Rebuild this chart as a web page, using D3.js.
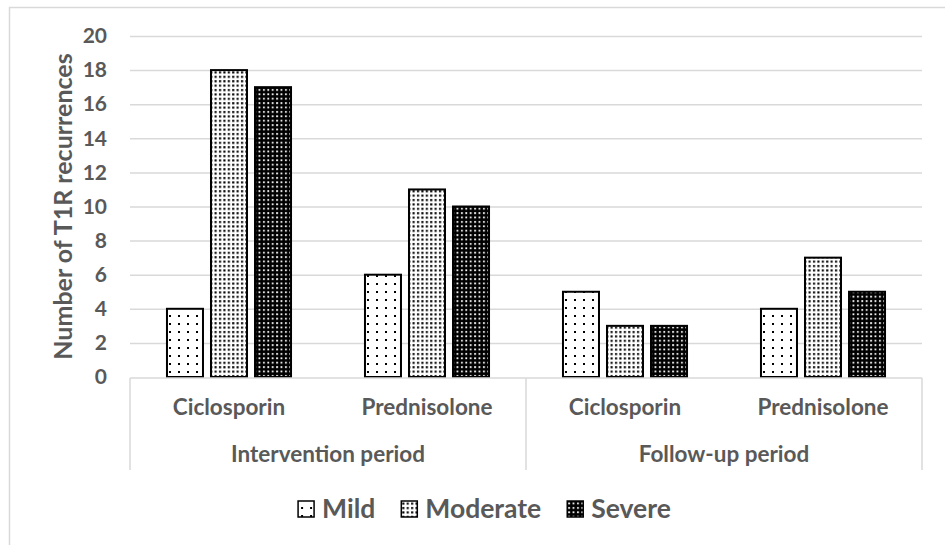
<!DOCTYPE html>
<html>
<head>
<meta charset="utf-8">
<script src="https://cdn.jsdelivr.net/npm/d3@7"></script>
<style>
  html, body { margin: 0; padding: 0; background: #fff; }
  svg { display: block; }
  text { font-family: Lato, "Open Sans", sans-serif; font-weight: 700; fill: #595959; }
</style>
</head>
<body>
<svg id="chart" width="945" height="545"></svg>
<script>
// Recurrences of type 1 reactions, by severity, treatment and study period
const periods = ["Intervention period", "Follow-up period"];
const drugs = ["Ciclosporin", "Prednisolone"];
const severities = ["Mild", "Moderate", "Severe"];
const mildValues = [4, 6, 5, 4];
const moderateValues = [18, 11, 3, 7];
const severeValues = [17, 10, 3, 5];
const yTicks = [0, 2, 4, 6, 8, 10, 12, 14, 16, 18, 20];
const yTitle = "Number of T1R recurrences";

const seriesValues = { Mild: mildValues, Moderate: moderateValues, Severe: severeValues };

// category keys: period x drug
const cats = [];
periods.forEach(p => drugs.forEach(d => cats.push({ period: p, drug: d, key: p + "|" + d })));

const svg = d3.select("#chart");
const plot = { left: 130, right: 922, top: 36, bottom: 377 };

// outer chart frame
svg.append("rect")
  .attr("x", 9.5).attr("y", 7.5).attr("width", 960).attr("height", 560)
  .attr("fill", "none").attr("stroke", "#d9d9d9").attr("stroke-width", 1.5);

// fill patterns
const defs = svg.append("defs");
const pMild = defs.append("pattern").attr("id", "pat-mild")
  .attr("patternUnits", "userSpaceOnUse").attr("width", 9).attr("height", 8);
pMild.append("rect").attr("width", 9).attr("height", 8).attr("fill", "#fff");
pMild.append("rect").attr("x", 3).attr("y", 3).attr("width", 2).attr("height", 2).attr("fill", "#000");

const pMod = defs.append("pattern").attr("id", "pat-moderate")
  .attr("patternUnits", "userSpaceOnUse").attr("width", 4.4).attr("height", 4.4);
pMod.append("rect").attr("width", 4.4).attr("height", 4.4).attr("fill", "#fff");
pMod.append("rect").attr("x", 1).attr("y", 1).attr("width", 2.1).attr("height", 2.1).attr("fill", "#000");

const pSev = defs.append("pattern").attr("id", "pat-severe")
  .attr("patternUnits", "userSpaceOnUse").attr("width", 4.4).attr("height", 4.4);
pSev.append("rect").attr("width", 4.4).attr("height", 4.4).attr("fill", "#000");
pSev.append("rect").attr("x", 1).attr("y", 1).attr("width", 1.8).attr("height", 1.8).attr("fill", "#fff");

const fills = { Mild: "url(#pat-mild)", Moderate: "url(#pat-moderate)", Severe: "url(#pat-severe)" };

// scales
const y = d3.scaleLinear().domain([0, 20]).range([plot.bottom, plot.top]);
const x0 = d3.scaleBand().domain(cats.map(c => c.key)).range([plot.left, plot.right]);
const x1 = d3.scaleBand().domain(severities).range([0, x0.bandwidth()])
  .paddingInner(0.182).paddingOuter(0.84);

// gridlines
svg.append("g")
  .attr("transform", `translate(${plot.left},0)`)
  .call(d3.axisLeft(y).tickValues(yTicks.filter(v => v > 0)).tickSize(-(plot.right - plot.left)).tickFormat(""))
  .call(g => g.select(".domain").remove())
  .call(g => g.selectAll("line").attr("stroke", "#d9d9d9").attr("stroke-width", 1.5));

// y tick labels
svg.append("g")
  .attr("transform", `translate(${plot.left},0)`)
  .call(d3.axisLeft(y).tickValues(yTicks).tickSize(0).tickPadding(23))
  .call(g => g.select(".domain").remove())
  .call(g => g.selectAll("text").attr("font-size", 21).attr("fill", "#595959")
    .style("font-family", "Lato, sans-serif").style("font-weight", 700));

// bars
const groups = svg.append("g").selectAll("g").data(cats).join("g")
  .attr("transform", d => `translate(${x0(d.key)},0)`);
groups.selectAll("rect")
  .data((d, i) => severities.map(s => ({ s, v: seriesValues[s][i] })))
  .join("rect")
  .attr("x", d => x1(d.s))
  .attr("width", x1.bandwidth())
  .attr("y", d => y(d.v))
  .attr("height", d => y(0) - y(d.v))
  .attr("fill", d => fills[d.s])
  .attr("stroke", "#000").attr("stroke-width", 2);

// category axis: baseline and group dividers
const axisColor = "#d9d9d9";
svg.append("line")
  .attr("x1", plot.left).attr("x2", plot.right).attr("y1", plot.bottom + 1).attr("y2", plot.bottom + 1)
  .attr("stroke", axisColor).attr("stroke-width", 1.5);
const dividers = [plot.left, x0(cats[2].key), plot.right];
svg.append("g").selectAll("line").data(dividers).join("line")
  .attr("x1", d => d).attr("x2", d => d)
  .attr("y1", plot.bottom + 1).attr("y2", 470)
  .attr("stroke", axisColor).attr("stroke-width", 1.5);

// drug labels
svg.append("g").selectAll("text").data(cats).join("text")
  .attr("x", d => x0(d.key) + x0.bandwidth() / 2)
  .attr("y", 415)
  .attr("text-anchor", "middle")
  .attr("font-size", 22.5)
  .text(d => d.drug);

// period labels
svg.append("g").selectAll("text").data(periods).join("text")
  .attr("x", p => {
    const keys = cats.filter(c => c.period === p).map(c => c.key);
    return (x0(keys[0]) + x0(keys[keys.length - 1]) + x0.bandwidth()) / 2;
  })
  .attr("y", 462)
  .attr("text-anchor", "middle")
  .attr("font-size", 22.5)
  .text(p => p);

// y-axis title
svg.append("text")
  .attr("transform", `translate(62,${(plot.top + plot.bottom) / 2}) rotate(-90)`)
  .attr("text-anchor", "middle")
  .attr("dominant-baseline", "central")
  .attr("font-size", 25)
  .text(yTitle);

// legend, centred in the chart frame
const legend = svg.append("g");
const markerSize = 16, markerGap = 8, itemGap = 26, legendCenter = 484.5, legendY = 509;
const items = legend.selectAll("g").data(severities).join("g");
items.append("rect")
  .attr("width", markerSize).attr("height", markerSize)
  .attr("y", legendY - markerSize / 2)
  .attr("fill", s => fills[s]).attr("stroke", "#000").attr("stroke-width", 1.5);
items.append("text")
  .attr("x", markerSize + markerGap)
  .attr("y", legendY + 9)
  .attr("font-size", 26.5)
  .text(s => s);
let widths = [];
items.each(function () { widths.push(this.getBBox().width); });
const total = d3.sum(widths) + itemGap * (widths.length - 1);
let cursor = legendCenter - total / 2;
items.each(function (d, i) {
  d3.select(this).attr("transform", `translate(${cursor},0)`);
  cursor += widths[i] + itemGap;
});
</script>
</body>
</html>
